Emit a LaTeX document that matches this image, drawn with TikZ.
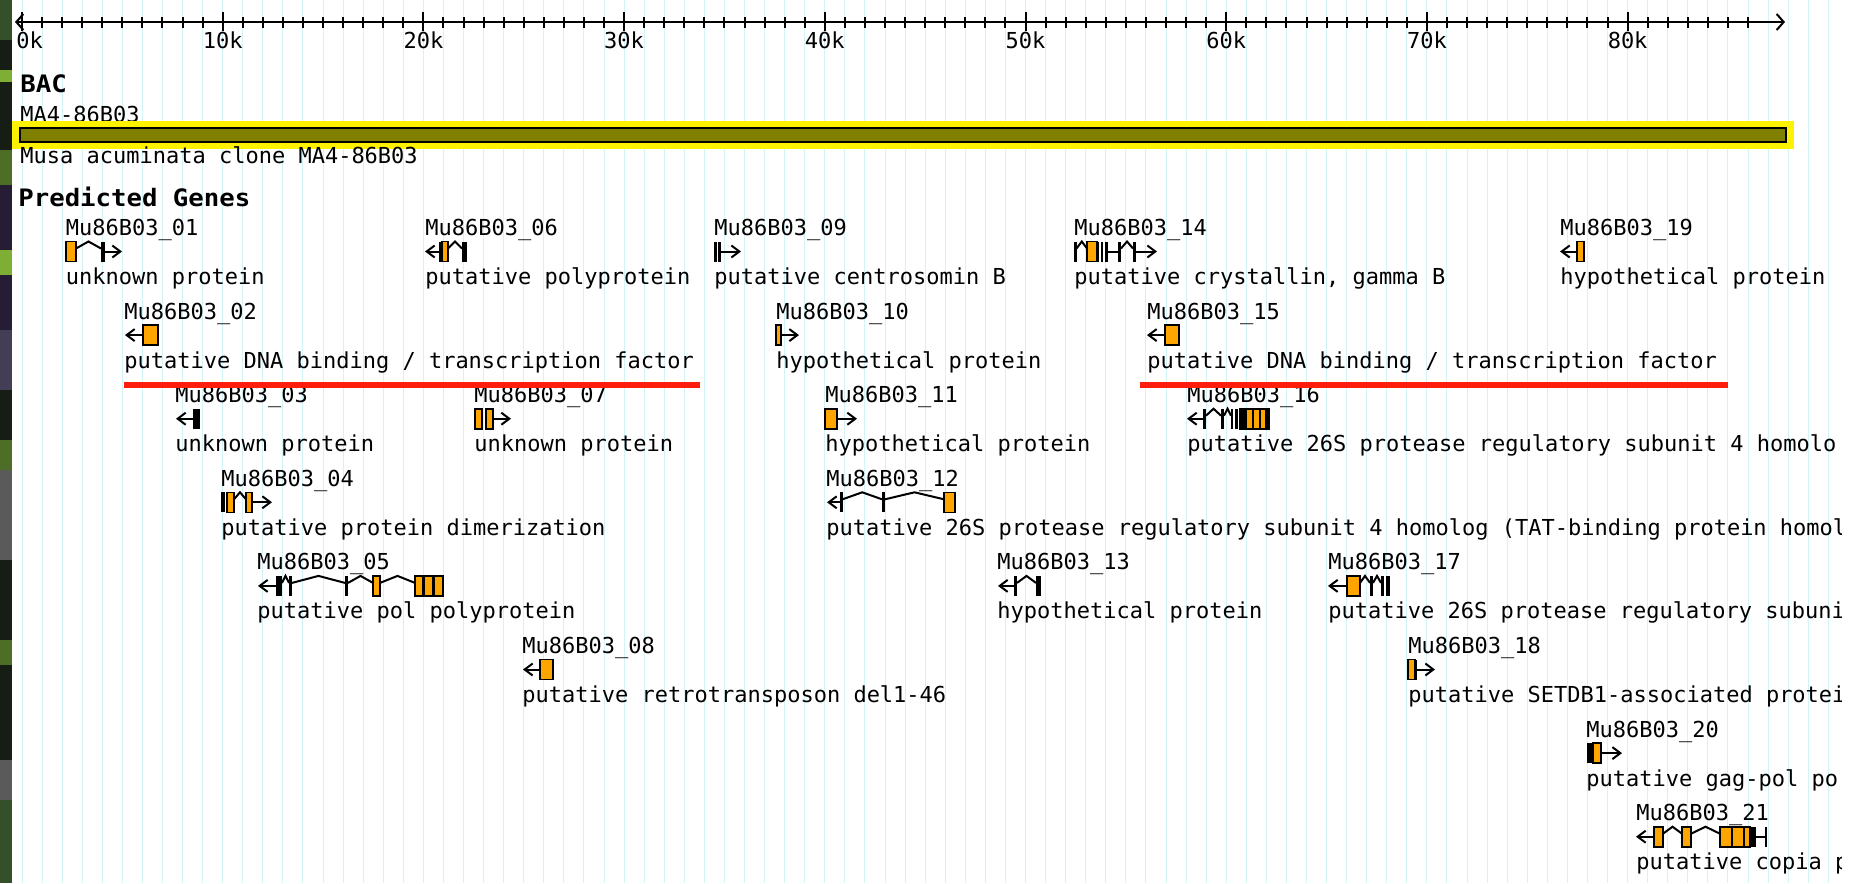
\documentclass[tikz,border=0pt]{standalone}
\usepackage{fontspec}
\usepackage{xcolor}
\usepackage{tikz}
\usetikzlibrary{arrows.meta}
\newfontfamily\gdfont{DejaVu Sans Mono}
\newfontfamily\gdbold{DejaVu Sans Mono}[FakeStretch=1.07]
\definecolor{exonorange}{HTML}{FFA500}
\definecolor{bacolive}{HTML}{808000}
\definecolor{gridcyan}{HTML}{D2F3F8}
\definecolor{markred}{HTML}{FF1E0E}
\definecolor{wallA}{HTML}{34502A}
\definecolor{wallB}{HTML}{161D14}
\definecolor{wallC}{HTML}{7FAE34}
\definecolor{wallD}{HTML}{4E6E28}
\definecolor{wallE}{HTML}{261C34}
\definecolor{wallF}{HTML}{433D56}
\definecolor{wallG}{HTML}{5A5A5A}
% gene glyph pieces, x in pixels, y relative to the glyph row
\newcommand{\gexon}[2]{\draw[cds] (#1,-10) rectangle (#2,10);}
\newcommand{\gblk}[2]{\fill[black] (#1,-10) rectangle (#2,10);}
\newcommand{\gintron}[2]{\draw[intron] (#1,-3) -- ({(#1+#2)/2},-10) -- (#2,-3);}
\newcommand{\gline}[2]{\draw[intron] (#1,0) -- (#2,0);}
\newcommand{\gfwd}[2]{\draw[strand] (#1,0) -- (#2,0);}
\newcommand{\grev}[2]{\draw[strand] (#2,0) -- (#1,0);}

\begin{document}
\begin{tikzpicture}[
    x=0.5pt, y=-0.5pt,
    lbl/.style={font=\gdfont\fontsize{11pt}{13pt}\selectfont, inner sep=0pt, anchor=base west},
    head/.style={font=\gdbold\bfseries\fontsize{12pt}{14pt}\selectfont, inner sep=0pt, anchor=base west},
    cds/.style={draw=black, fill=exonorange, line width=0.8pt},
    intron/.style={line width=1pt},
    strand/.style={line width=1pt, -{Straight Barb[length=4pt,width=6pt]}},
    gridln/.style={gridcyan, line width=0.5pt},
    redline/.style={markred, line width=3pt}
  ]
  \useasboundingbox (0,0) rectangle (1867,883);
  \fill[white] (0,0) rectangle (1867,883);

  % wallpaper strip at the left edge
  \foreach \ya/\yb/\wc in {0/40/wallA, 40/70/wallB, 70/82/wallC, 82/150/wallB, 150/185/wallD,
      185/250/wallE, 250/275/wallC, 275/330/wallE, 330/390/wallF, 390/440/wallB, 440/470/wallD,
      470/560/wallG, 560/640/wallB, 640/665/wallD, 665/760/wallB, 760/800/wallG, 800/883/wallA}
    \fill[\wc] (0,\ya) rectangle (12,\yb);

  \begin{scope}
    \clip (12,0) rectangle (1841,883);
    \foreach \k in {0,...,91}
      \draw[gridln] (22+20.07*\k,0) -- (22+20.07*\k,883);

    % ruler
    \draw[line width=1pt, {Straight Barb[length=3.5pt,width=8pt]}-{Straight Barb[length=3.5pt,width=8pt]}] (15,22) -- (1785,22);
    \foreach \k in {0,...,86}
      \draw[line width=1pt] (22+20.07*\k,17) -- (22+20.07*\k,28);
    \foreach \k in {0,10,...,80}
      \draw[line width=1pt] (22+20.07*\k,12) -- (22+20.07*\k,31);
    \node[lbl] (t0) at (16,49) {0k};
    \foreach \k in {1,...,8}
      \node[lbl, anchor=base] (t\k) at (22+200.7*\k,49) {\k0k};

    % BAC track
    \node[head] (bac) at (20,93) {BAC};
    \node[lbl] (bacname) at (20,122) {MA4-86B03};
    \fill[yellow] (12,121) rectangle (1794,149);
    \draw[fill=bacolive, line width=1pt] (20,128) rectangle (1786,142);
    \node[lbl] (bacdesc) at (20,163) {Musa acuminata clone MA4-86B03};

    % predicted genes
    \node[head] (genes) at (18,206) {Predicted Genes};
    \foreach \id/\gx/\row/\desc in {
        01/65.5/0/{unknown protein},
        06/425/0/{putative polyprotein},
        09/714/0/{putative centrosomin B},
        14/1074/0/{putative crystallin, gamma B},
        19/1560/0/{hypothetical protein},
        02/124/1/{putative DNA binding / transcription factor},
        10/776/1/{hypothetical protein},
        15/1147/1/{putative DNA binding / transcription factor},
        03/175/2/{unknown protein},
        07/474/2/{unknown protein},
        11/825/2/{hypothetical protein},
        16/1187/2/{putative 26S protease regulatory subunit 4 homolo},
        04/221/3/{putative protein dimerization},
        12/826/3/{putative 26S protease regulatory subunit 4 homolog (TAT-binding protein homol},
        05/257/4/{putative pol polyprotein},
        13/997/4/{hypothetical protein},
        17/1328/4/{putative 26S protease regulatory subuni},
        08/522/5/{putative retrotransposon del1-46},
        18/1408/5/{putative SETDB1-associated protei},
        20/1586/6/{putative gag-pol po},
        21/1636/7/{putative copia p}}{
      \pgfmathsetmacro\gy{251.5+83.6*\row}
      \node[lbl] (n\id) at (\gx,\gy-16) {Mu86B03\_\id};
      \node[lbl] (d\id) at (\gx,\gy+33) {\desc};
    }

    % glyphs, one scope per row
    \begin{scope}[shift={(0,251.5)}]
      \gexon{66}{76}\gintron{76}{101}\gblk{101}{105}\gfwd{105}{122}
      \grev{425}{439}\gblk{439}{441.5}\gexon{442}{448}\gintron{448}{462}\gblk{462}{467}
      \gblk{714}{716.5}\gblk{718}{721}\gfwd{721}{741}
      \gblk{1074}{1076.5}\gintron{1076.5}{1087}\gexon{1087}{1097}\gblk{1097}{1099}\gblk{1101}{1103}\gblk{1105}{1108}
      \gline{1108}{1118}\gblk{1118}{1121}\gintron{1121}{1133}\gblk{1133}{1136}\gfwd{1136}{1157}
      \grev{1560}{1577}\gexon{1577}{1584}
    \end{scope}
    \begin{scope}[shift={(0,335.1)}]
      \grev{125}{143}\gexon{143}{158}
      \gexon{776}{781}\gfwd{781}{799}
      \grev{1147}{1165}\gexon{1165}{1179}
    \end{scope}
    \begin{scope}[shift={(0,418.7)}]
      \grev{176}{193}\gblk{193}{200}
      \gexon{475}{482}\gexon{486}{493}\gfwd{493}{511}
      \gexon{825}{837}\gfwd{837}{857}
      \grev{1187}{1203}\gblk{1203}{1206}\gintron{1206}{1221}\gblk{1221}{1224}\gintron{1224}{1231}\gblk{1231}{1233}\gblk{1235}{1238}
      \gexon{1240}{1269}\gblk{1240}{1247}\gblk{1252}{1254}\gblk{1259}{1261}\gblk{1265}{1269}
    \end{scope}
    \begin{scope}[shift={(0,502.3)}]
      \gblk{221}{225}\gexon{227}{234}\gintron{234}{246}\gexon{246}{252}\gfwd{252}{272}
      \grev{827}{840}\gblk{840}{842.5}\gintron{842.5}{882}\gblk{882}{885}\gintron{885}{944}\gexon{944}{955}
    \end{scope}
    \begin{scope}[shift={(0,585.9)}]
      \grev{258}{276}\gblk{276}{282}\gintron{282}{289}\gblk{289}{292}\gintron{292}{345}\gblk{345}{348}
      \gintron{348}{373}\gexon{373}{380}\gintron{380}{415}\gexon{415}{423}\gexon{424}{433}\gexon{434}{443}
      \grev{998}{1014}\gblk{1014}{1017}\gintron{1017}{1036}\gblk{1036}{1041}
      \grev{1328}{1347}\gexon{1347}{1360}\gintron{1360}{1370}\gblk{1370}{1373}\gintron{1373}{1381}\gblk{1381}{1384}\gblk{1386}{1390}
    \end{scope}
    \begin{scope}[shift={(0,669.5)}]
      \grev{523}{540}\gexon{540}{553}
      \gexon{1408}{1415}\gblk{1415}{1417}\gfwd{1417}{1435}
    \end{scope}
    \begin{scope}[shift={(0,753.1)}]
      \gblk{1587}{1592}\gexon{1593}{1601}\gfwd{1601}{1622}
    \end{scope}
    \begin{scope}[shift={(0,836.7)}]
      \grev{1636}{1654}\gexon{1654}{1663}\gintron{1663}{1682}\gexon{1682}{1691}\gintron{1691}{1720}
      \gexon{1720}{1732}\gexon{1732}{1744}\gexon{1744}{1750}\gblk{1750}{1756}\gline{1756}{1765}\gblk{1765}{1767}
    \end{scope}

    % red underlines
    \draw[redline] (124,385) -- (700,385);
    \draw[redline] (1140,385) -- (1728,385);
  \end{scope}
\end{tikzpicture}
\end{document}
